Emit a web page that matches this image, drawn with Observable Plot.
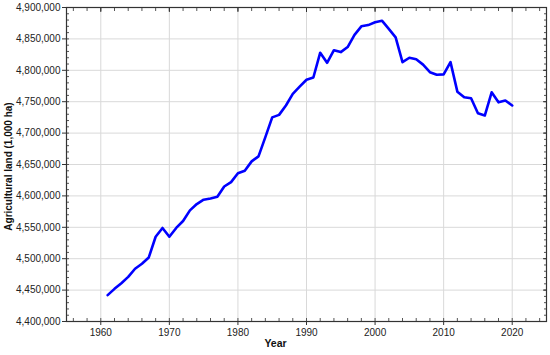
<!DOCTYPE html>
<html>
<head>
<meta charset="utf-8">
<script src="https://cdn.jsdelivr.net/npm/d3@7"></script>
<script src="https://cdn.jsdelivr.net/npm/@observablehq/plot@0.6"></script>
<style>
  html, body { margin: 0; padding: 0; background: #fff; }
  svg { display: block; }
</style>
</head>
<body>
<div id="chart"></div>
<script>
const years = [1961,1962,1963,1964,1965,1966,1967,1968,1969,1970,
  1971,1972,1973,1974,1975,1976,1977,1978,1979,1980,
  1981,1982,1983,1984,1985,1986,1987,1988,1989,1990,
  1991,1992,1993,1994,1995,1996,1997,1998,1999,2000,
  2001,2002,2003,2004,2005,2006,2007,2008,2009,2010,
  2011,2012,2013,2014,2015,2016,2017,2018,2019,2020];
const agriculturalLand = [4442000,4452000,4461000,4471000,4484000,4492000,4502000,4535000,4549000,4535000,
  4549000,4560000,4577000,4587000,4594000,4596000,4598500,4615000,4622000,4636000,
  4640000,4655000,4663000,4693500,4725000,4729000,4744000,4762500,4774000,4785000,
  4788500,4828000,4812000,4832000,4829000,4837000,4856500,4870000,4872000,4876500,
  4879000,4866000,4852500,4813000,4820000,4817500,4809000,4797000,4793000,4793500,
  4813000,4766000,4757000,4755500,4731500,4728000,4765000,4749000,4752000,4744000];
const xTicks = [1960,1970,1980,1990,2000,2010,2020];
const xMinorTicks = d3.range(1956, 2025, 2);
const yTicks = [4400000,4450000,4500000,4550000,4600000,4650000,4700000,4750000,4800000,4850000,4900000];
const yMinorTicks = d3.range(4400000, 4900001, 10000);
const xTitle = "Year";
const yTitle = "Agricultural land (1,000 ha)";

const data = years.map((y, i) => ({year: y, value: agriculturalLand[i]}));
const blank = () => "";

const chart = Plot.plot({
  width: 550,
  height: 355,
  marginLeft: 66,
  marginRight: 4,
  marginTop: 7,
  marginBottom: 34,
  style: {fontFamily: "'Liberation Sans', Arial, sans-serif", fontSize: "10px", color: "#222", background: "#fff"},
  x: {domain: [1955, 2025], label: null},
  y: {domain: [4400000, 4900000], label: null},
  marks: [
    Plot.gridX(xTicks, {stroke: "#d9d9d9", strokeOpacity: 1}),
    Plot.gridY(yTicks, {stroke: "#d9d9d9", strokeOpacity: 1}),
    Plot.axisX(xMinorTicks, {anchor: "bottom", tickSize: -3, tickFormat: blank, stroke: "#555"}),
    Plot.axisX(xMinorTicks, {anchor: "top", tickSize: -3, tickFormat: blank, stroke: "#555"}),
    Plot.axisY(yMinorTicks, {anchor: "left", tickSize: -3, tickFormat: blank, stroke: "#555"}),
    Plot.axisY(yMinorTicks, {anchor: "right", tickSize: -3, tickFormat: blank, stroke: "#555"}),
    Plot.axisX(xTicks, {anchor: "bottom", tickSize: 4, tickPadding: 3, tickFormat: d => String(d), stroke: "#333"}),
    Plot.axisX(xTicks, {anchor: "top", tickSize: -4, tickFormat: blank, stroke: "#333"}),
    Plot.axisY(yTicks, {anchor: "left", tickSize: 4, tickPadding: 2, tickFormat: d3.format(","), stroke: "#333"}),
    Plot.axisY(yTicks, {anchor: "right", tickSize: -4, tickFormat: blank, stroke: "#333"}),
    Plot.frame({stroke: "#333", strokeWidth: 1.2}),
    Plot.line(data, {x: "year", y: "value", stroke: "#0000ff", strokeWidth: 2.6, strokeLinejoin: "round"}),
    Plot.text([xTitle], {frameAnchor: "bottom", dy: 25, dx: -31, fontWeight: "bold", fontSize: 10.5, fill: "#111"}),
    Plot.text([yTitle], {frameAnchor: "left", textAnchor: "middle", rotate: -90, dx: -58, dy: 2, fontWeight: "bold", fontSize: 10, fill: "#111"})
  ]
});
document.getElementById("chart").appendChild(chart);
</script>
</body>
</html>
